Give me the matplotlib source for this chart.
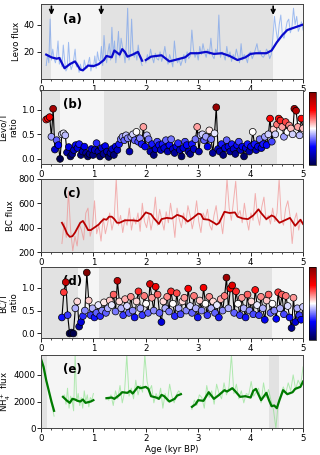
import matplotlib
matplotlib.use("Agg")
import matplotlib.pyplot as plt
import numpy as np
from matplotlib.ticker import MultipleLocator

plt.rcParams["font.size"] = 6.5
plt.rcParams["font.family"] = "DejaVu Sans"

# ---------------- data ----------------
# (a) levoglucosan flux: raw record (two segments) + smoothed curve
levo_raw1 = [10, 18, 12, 44, 14, 22, 15, 12, 17, 28, 11, 16, 9, 25, 14, 6, 8, 27, 12, 7,
             10, 15, 22, 9, 12, 5, 11, 7, 6, 14, 9, 8, 12, 16, 6, 11, 9, 17, 8, 20,
             14, 13, 24, 10, 32, 18, 12, 20, 26, 14, 38, 18, 28, 12, 22, 35, 16, 30, 24, 20,
             12, 26, 52, 14, 18, 44, 22, 16, 20, 14, 25, 18, 13, 10]
levo_raw2 = [12, 18, 14, 22, 16, 12, 19, 15, 14, 20, 13, 17, 24, 16, 11, 18, 14, 9, 28, 16,
             12, 15, 10, 14, 18, 12, 20, 15, 17, 36, 22, 16, 20, 14, 24, 18, 26, 20, 16, 22,
             18, 30, 17, 15, 22, 19, 47, 16, 20, 18, 14, 24, 16, 20, 13, 18, 15, 22, 17, 12,
             26, 14, 18, 16, 12, 19, 20, 15, 18, 22, 26, 19, 21, 17, 16, 18, 22, 20, 15, 18,
             30, 46, 36, 28, 40, 47, 32, 30, 36, 42, 44, 34, 38, 52, 40, 46, 35, 38, 42, 36]
levo_sm_age = [0.1, 0.2, 0.3, 0.35, 0.45, 0.55, 0.65, 0.75, 0.8, 0.9, 1.0, 1.1, 1.2, 1.25,
               1.35, 1.4, 1.5, 1.55, 1.6, 1.65, 1.75, 1.85, 1.93, 1.96,
               2.0, 2.1, 2.3, 2.45, 2.6, 2.75, 2.85, 3.0, 3.15, 3.3, 3.45, 3.6, 3.75, 3.9,
               4.0, 4.1, 4.3, 4.4, 4.5, 4.6, 4.7, 4.85, 5.0]
levo_sm = [18, 16, 15, 15.5, 8, 11, 13, 7, 6.5, 10, 9.5, 11, 14, 17,
           16, 21, 18, 22, 20, 16.5, 18, 20, 13.5, np.nan,
           14, 16.5, 17.5, 13, 14.5, 16, 19, 19, 20, 18.5, 19, 17, 14, 16,
           18.5, 19, 19, 21, 27, 32, 36, 38, 40]
arrow_ages = [0.2, 1.15, 4.43]

# (b) levo / T ratio
levoT = [0.80, 0.82, 0.85, 0.45, 1.02, 0.19, 0.38, 0.28, 0.00, 0.50, 0.52, 0.48, 0.13, 0.24,
         0.05, 0.10, 0.18, 0.28, 0.22, 0.30, 0.08, 0.15, 0.25, 0.12, 0.05, 0.10, 0.20, 0.08,
         0.18, 0.32, 0.15, 0.05, 0.22, 0.10, 0.26, 0.15, 0.04, 0.12, 0.20, 0.08, 0.25, 0.18,
         0.30, 0.40, 0.45, 0.38, 0.48, 0.42, 0.15, 0.45, 0.50, 0.38, 0.55, 0.35, 0.42, 0.30,
         0.65, 0.25, 0.48, 0.40, 0.15, 0.30, 0.08, 0.20, 0.35, 0.28, 0.18, 0.30, 0.22, 0.38,
         0.15, 0.28, 0.40, 0.20, 0.12, 0.25, 0.32, 0.18, 0.05, 0.22, 0.35, 0.28, 0.15, 0.10,
         0.30, 0.20, 0.40, 0.65, 0.15, 0.48, 0.50, 0.38, 0.45, 0.25, 0.58, 0.40, 0.12, 0.52,
         1.05, 0.20, 0.15, 0.30, 0.08, 0.22, 0.38, 0.25, 0.15, 0.30, 0.20, 0.10, 0.28, 0.35,
         0.18, 0.25, 0.05, 0.22, 0.30, 0.15, 0.25, 0.55, 0.30, 0.18, 0.25, 0.40, 0.22, 0.30,
         0.45, 0.28, 0.50, 0.82, 0.35, 0.60, 0.50, 0.70, 0.82, 0.78, 0.65, 0.45, 0.75, 0.55,
         0.68, 0.62, 0.50, 1.02, 0.98, 0.65, 0.48, 0.82, 0.62]

# (c) BC flux
bc_raw = [270, 440, 320, 700, 380, 210, 330, 250, 430, 380, 300, 520, 560, 330, 400, 620, 350, 420,
          290, 480, 350, 430, 520, 380, 460, 800, 420, 500, 360, 470, 420, 560, 380, 480, 430, 520,
          370, 600, 450, 400, 510, 380, 470, 650, 420, 550, 460, 380, 530, 440, 600, 480, 320, 560,
          470, 400, 520, 430, 580, 500, 390, 480, 620, 450, 360, 520, 470, 550, 420, 380, 500, 580,
          430, 470, 350, 520, 800, 560, 460, 620, 780, 500, 540, 440, 600, 470, 380, 520, 460, 680,
          500, 420, 570, 650, 460, 500, 430, 560, 450, 520, 800, 470, 420, 560, 620, 500, 270, 460,
          520, 380, 470, 430]
bc_sm_age = [0.4, 0.45, 0.5, 0.55, 0.6, 0.65, 0.7, 0.75, 0.8, 0.85, 0.9, 0.95, 1.0, 1.05, 1.1,
             1.15, 1.2, 1.25, 1.3, 1.35, 1.4, 1.45, 1.5, 1.6, 1.75, 1.85, 1.9, 2.0, 2.1, 2.15,
             2.25, 2.3, 2.4, 2.5, 2.6, 2.7, 2.8, 2.9, 3.0, 3.05, 3.1, 3.2, 3.3, 3.35, 3.4, 3.5,
             3.6, 3.7, 3.75, 3.85, 3.95, 4.05, 4.15, 4.2, 4.3, 4.4, 4.45, 4.55, 4.65, 4.75,
             4.85, 4.95, 5.0]
bc_sm = [440, 400, 350, 325, 330, 360, 400, 440, 455, 420, 380, 380, 395, 410, 425,
         450, 470, 465, 490, 490, 470, 440, 440, 460, 460, 455, 470, 525, 510, 480,
         430, 470, 480, 475, 505, 490, 450, 480, 515, 510, 470, 465, 440, 425, 440, 530,
         520, 525, 490, 475, 470, 500, 550, 520, 470, 500, 490, 440, 460, 480,
         415, 465, 430]

# (d) BC / T ratio
bcT = [0.35, 0.90, 1.12, 0.40, 0.00, 0.02, 0.00, 0.55, 0.70, 0.15, 0.25, 0.38, 0.50, 1.33,
       0.72, 0.40, 0.55, 0.35, 0.45, 0.62, 0.38, 0.50, 0.68, 0.45, 0.55, 0.72, 0.62, 0.85,
       0.48, 1.15, 0.70, 0.55, 0.40, 0.75, 0.60, 0.45, 0.80, 0.50, 0.35, 0.70, 0.92, 0.55,
       0.40, 0.82, 0.65, 0.45, 1.08, 0.78, 0.50, 1.02, 0.85, 0.45, 0.25, 0.70, 0.55, 0.80,
       0.48, 0.92, 0.65, 0.38, 0.88, 0.55, 0.42, 0.70, 0.78, 0.50, 0.98, 0.60, 0.45, 0.82,
       0.55, 0.35, 0.72, 0.50, 1.00, 0.65, 0.40, 0.80, 0.55, 0.70, 0.45, 0.62, 0.35, 0.75,
       0.50, 0.82, 1.22, 0.55, 0.98, 1.05, 0.45, 0.92, 0.65, 0.40, 0.78, 0.55, 0.35, 0.85,
       0.50, 0.70, 0.42, 0.95, 0.62, 0.40, 0.80, 0.55, 0.30, 0.72, 0.85, 0.45, 0.65, 0.50,
       0.32, 0.90, 0.55, 0.85, 0.42, 0.82, 0.60, 0.35, 0.12, 0.78, 0.25, 0.55, 0.40, 0.30,
       0.58]

# (e) ammonium flux
nh4_raw = [
    [5300, 4600, 4000, 3400, 2900, 2200, 1600, 900],
    [2300, 2500, 1800, 3000, 1500, 2400, 2100, 1300, 5500, 2000, 2600, 1700, 2300, 1500,
     2800, 2000, 2500, 1600, 2300, 2100, 2600],
    [2300, 2100, 2500, 1700, 2800, 2200, 3200, 1900, 2700, 5500, 2400, 3000, 2200, 3600,
     2500, 3200, 2700, 5500, 3500, 2800, 3200, 1900, 2600, 2200, 3000, 1500, 2600, 2000,
     3300, 2400, 1900, 2500, 2800, 2600],
    [1400, 2100, 1700, 2500, 2300, 1500, 3200, 2300, 2800, 1800, 3300, 2600, 2200, 3400,
     2500, 3100, 5500, 2600, 3300, 2200, 2800, 1900, 2600, 2500, 3500, 2400, 2700, 3000,
     1900, 3400, 2300, 2900, 2100, 1400, 0, 2000, 2500, 3100, 2600, 3400, 2800, 4000,
     2900, 3600, 3200, 4600]]
nh4_raw_span = [(0.0, 0.25), (0.42, 1.0), (1.25, 2.67), (2.88, 5.0)]
nh4_sm_age = [0.0, 0.05, 0.1, 0.15, 0.2, 0.25, 0.3,
              0.42, 0.5, 0.55, 0.6, 0.65, 0.7, 0.75, 0.8, 0.85, 0.9, 0.95, 1.0, 1.1,
              1.25, 1.35, 1.4, 1.5, 1.55, 1.65, 1.7, 1.75, 1.85, 1.9, 2.0, 2.05, 2.1, 2.2,
              2.25, 2.3, 2.35, 2.45, 2.55, 2.6, 2.67, 2.8,
              2.88, 2.95, 3.0, 3.1, 3.2, 3.3, 3.4, 3.5, 3.55, 3.65, 3.7, 3.8, 3.9, 4.0,
              4.05, 4.1, 4.2, 4.3, 4.35, 4.4, 4.45, 4.5, 4.55, 4.62, 4.7, 4.8, 4.85, 4.95, 5.0]
nh4_sm = [5200, 4600, 3600, 2800, 2000, 1300, np.nan,
          2350, 2050, 1900, 2200, 2150, 2050, 2000, 2150, 1900, 1950, 2000, 2100, np.nan,
          2250, 2300, 2200, 2500, 2700, 2650, 2800, 2600, 3100, 3000, 3100, 2950, 2400, 2300,
          2200, 2500, 2400, 2000, 2200, 2450, 2550, np.nan,
          1600, 1800, 2100, 2050, 2700, 2200, 2500, 2850, 2750, 3000, 2800, 2350, 2400, 2300,
          2800, 2950, 2100, 2650, 2100, 1650, 1700, 1500, 2100, 2850, 2550, 2700, 2950, 3100, 3500]

# background shading per panel: (start, end, shade)
shades = {
    "a": [(0, 0.2, "d"), (0.2, 1.15, "l"), (1.15, 4.43, "d"), (4.43, 5, "l")],
    "b": [(0, 0.37, "d"), (0.37, 1.2, "l"), (1.2, 4.5, "d"), (4.5, 5, "l")],
    "c": [(0, 1.02, "d"), (1.02, 5, "l")],
    "d": [(0, 0.7, "d"), (0.7, 1.1, "l"), (1.1, 4.4, "d"), (4.4, 5, "l")],
    "e": [(0, 0.12, "d"), (0.12, 4.35, "l"), (4.35, 4.55, "d"), (4.55, 5, "l")],
}
shade_col = {"d": "#e2e2e2", "l": "#f5f5f5"}

# ---------------- figure ----------------
fig = plt.figure(figsize=(3.2, 4.55), dpi=100)
L, W = 0.128, 0.819
ax_a = fig.add_axes([L, 0.826, W, 0.165])
ax_b = fig.add_axes([L, 0.640, W, 0.162])
ax_c = fig.add_axes([L, 0.446, W, 0.161])
ax_d = fig.add_axes([L, 0.257, W, 0.156])
ax_e = fig.add_axes([L, 0.059, W, 0.161])
cax_b = fig.add_axes([0.966, 0.637, 0.021, 0.161])
cax_d = fig.add_axes([0.966, 0.253, 0.021, 0.160])

axes = {"a": ax_a, "b": ax_b, "c": ax_c, "d": ax_d, "e": ax_e}
for key, ax in axes.items():
    for x0, x1, s in shades[key]:
        ax.axvspan(x0, x1, color=shade_col[s], lw=0, zorder=0)
    ax.set_xlim(0, 5)
    ax.xaxis.set_major_locator(MultipleLocator(1))
    ax.xaxis.set_minor_locator(MultipleLocator(0.2))
    ax.tick_params(labelsize=6.2, length=3, width=0.6, pad=1.5)
    ax.tick_params(which="minor", length=1.5, width=0.5)
    for sp in ax.spines.values():
        sp.set_color("#444444")
        sp.set_linewidth(0.7)
    ax.text(0.085, 0.8, "(%s)" % key, transform=ax.transAxes, fontsize=8.5,
            fontweight="bold", va="center")

# (a)
ax_a.plot(np.linspace(0.1, 1.93, len(levo_raw1)), levo_raw1, color="cornflowerblue",
          lw=0.7, alpha=0.6)
ax_a.plot(np.linspace(2.0, 5.0, len(levo_raw2)), levo_raw2, color="cornflowerblue",
          lw=0.7, alpha=0.6)
ax_a.plot(levo_sm_age, levo_sm, color="#0a0acc", lw=1.6)
ax_a.set_ylim(0, 55)
ax_a.set_yticks([20, 40])
for xa in arrow_ages:
    ax_a.annotate("", xy=(xa, 45), xytext=(xa, 55.5),
                  arrowprops=dict(arrowstyle="->", color="k", lw=1.2))
ax_a.set_ylabel("Levo flux", fontsize=6.2, labelpad=2)

# (b)
cmap = plt.get_cmap("seismic")
xb = np.linspace(0.1, 5.0, len(levoT))
ax_b.plot(xb, levoT, color="k", lw=0.8, zorder=2)
sc_b = ax_b.scatter(xb, levoT, c=levoT, cmap=cmap, vmin=0, vmax=1.1, s=24,
                    edgecolors="k", linewidths=0.5, zorder=3)
ax_b.set_ylim(-0.1, 1.4)
ax_b.set_yticks([0.0, 0.5, 1.0])
ax_b.set_ylabel("Levo/T\nratio", fontsize=6.2, labelpad=2)
cb = fig.colorbar(sc_b, cax=cax_b)
cb.set_ticks([])
cb.outline.set_linewidth(0.5)

# (c)
ax_c.plot(np.linspace(0.4, 5.0, len(bc_raw)), bc_raw, color="lightcoral", lw=0.7, alpha=0.6)
ax_c.plot(bc_sm_age, bc_sm, color="#b80000", lw=1.3)
ax_c.set_ylim(200, 800)
ax_c.set_yticks([200, 400, 600, 800])
ax_c.set_ylabel("BC flux", fontsize=6.2, labelpad=2)

# (d)
xd = np.linspace(0.4, 5.0, len(bcT))
ax_d.plot(xd, bcT, color="k", lw=0.8, zorder=2)
sc_d = ax_d.scatter(xd, bcT, c=bcT, cmap=cmap, vmin=0, vmax=1.3, s=24,
                    edgecolors="k", linewidths=0.5, zorder=3)
ax_d.set_ylim(-0.1, 1.45)
ax_d.set_yticks([0.0, 0.5, 1.0])
ax_d.set_ylabel("BC/T\nratio", fontsize=6.2, labelpad=2)
cb = fig.colorbar(sc_d, cax=cax_d)
cb.set_ticks([])
cb.outline.set_linewidth(0.5)

# (e)
for vals, (x0, x1) in zip(nh4_raw, nh4_raw_span):
    ax_e.plot(np.linspace(x0, x1, len(vals)), vals, color="#7ee07e", lw=0.7, alpha=0.6)
ax_e.plot(nh4_sm_age, nh4_sm, color="#007a00", lw=1.6)
ax_e.set_ylim(0, 5500)
ax_e.set_yticks([0, 2000, 4000])
ax_e.tick_params(axis="y", pad=1)
ax_e.set_ylabel("NH$_4^+$ flux", fontsize=6.2)
ax_e.yaxis.set_label_coords(-0.105, 0.5)
ax_e.set_xlabel("Age (kyr BP)", fontsize=6.2, labelpad=1)

fig.savefig("out.png", dpi=100)
